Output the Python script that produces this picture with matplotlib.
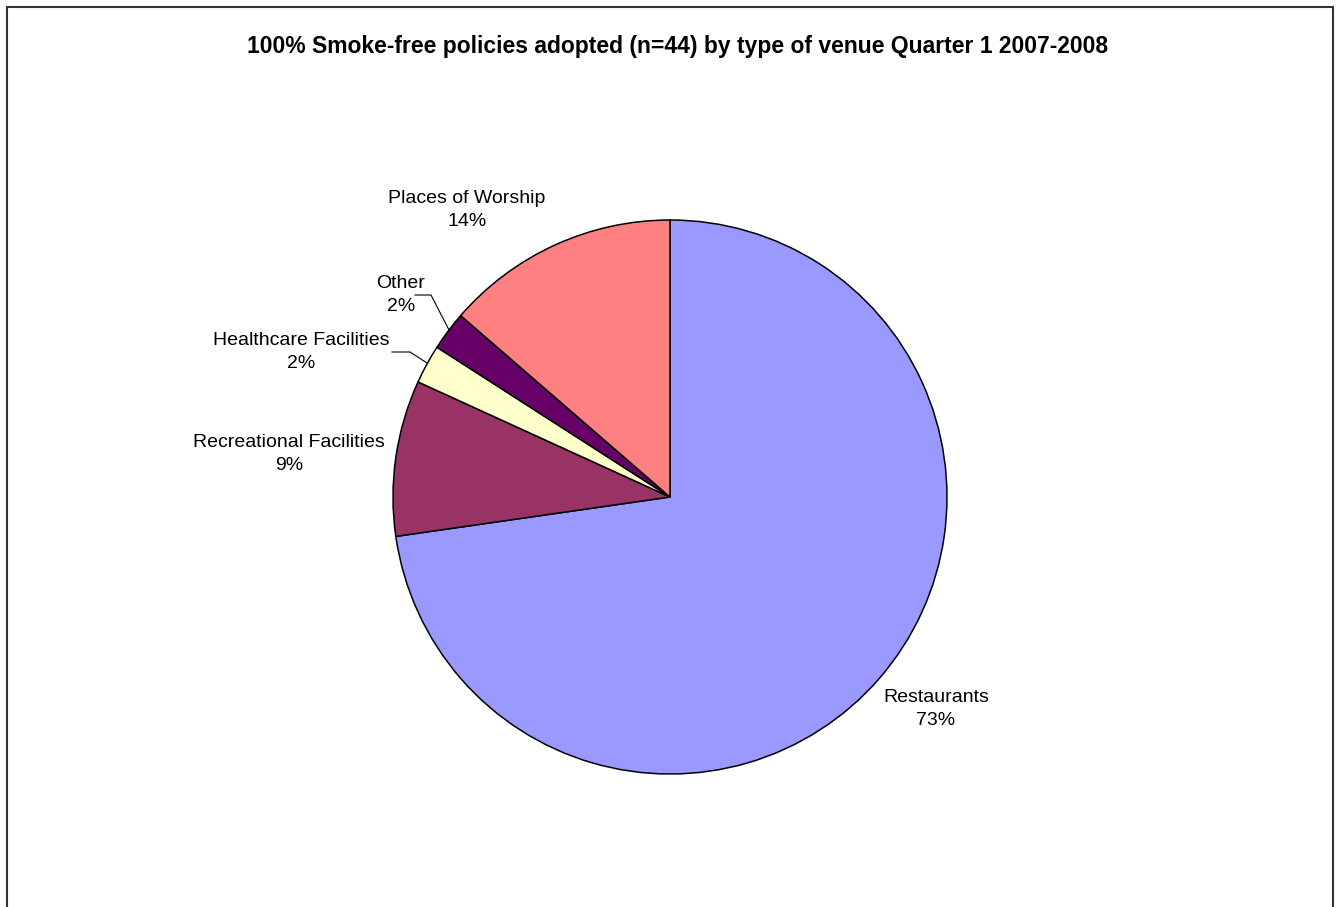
import matplotlib
matplotlib.use("Agg")
import matplotlib.pyplot as plt
from matplotlib.patches import Rectangle

plt.rcParams['font.family'] = ['Liberation Sans', 'DejaVu Sans']

# data (n=44 policies)
venues = ['Restaurants', 'Recreational Facilities', 'Healthcare Facilities',
          'Other', 'Places of Worship']
counts = [32, 4, 1, 1, 6]
pct_labels = ['73%', '9%', '2%', '2%', '14%']
colors = ['#9999FF', '#993366', '#FFFFCC', '#660066', '#FF8080']

W, H = 1339, 907
fig = plt.figure(figsize=(W / 100, H / 100), dpi=100)
ax = fig.add_axes([0, 0, 1, 1])

# outer chart frame (bottom edge runs off the image)
ax.add_patch(Rectangle((7, -20), 1326, H - 7 + 20, fill=False,
                       edgecolor='#333333', linewidth=1.5, zorder=0))

cx, cy, r = 670, H - 497, 277
wedges, _ = ax.pie(counts, colors=colors, startangle=90, counterclock=False,
                   center=(cx, cy), radius=r, frame=True,
                   wedgeprops=dict(edgecolor='black', linewidth=1.1))
ax.set_xlim(0, W)
ax.set_ylim(0, H)
ax.set_aspect('equal')
ax.axis('off')

# label positions in pixels (x, y of the text block centre)
label_pos = [(936, 709), (289, 454), (301, 352), (401, 295), (467, 210)]
for name, pct, (lx, ly) in zip(venues, pct_labels, label_pos):
    ax.text(lx, H - ly, name + '\n' + pct, ha='center', va='center',
            fontsize=14, linespacing=1.5)

# leader lines for the two small slices
ax.plot([415, 431, 449], [H - 295, H - 295, H - 330], color='black', lw=0.8)
ax.plot([392, 410, 427], [H - 352, H - 352, H - 363], color='black', lw=0.8)

ax.text(678, H - 47, '100% Smoke-free policies adopted (n=44) by type of venue Quarter 1 2007-2008',
        ha='center', va='center', fontsize=16.5, fontweight='bold')

fig.savefig('out.png', dpi=100, facecolor='white')
